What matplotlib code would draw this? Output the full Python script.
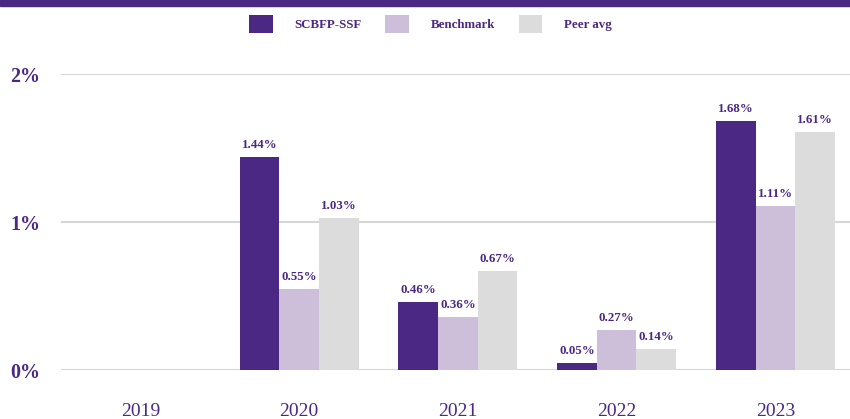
import matplotlib.pyplot as plt
import numpy as np

years = ['2019', '2020', '2021', '2022', '2023']
series = ['SCBFP-SSF', 'Benchmark', 'Peer avg']
scbfp = [np.nan, 1.44, 0.46, 0.05, 1.68]
bench = [np.nan, 0.55, 0.36, 0.27, 1.11]
peer = [np.nan, 1.03, 0.67, 0.14, 1.61]

purple = '#4b2884'
colors = [purple, '#cdbfda', '#dcdcdc']

plt.rcParams['font.family'] = ['Liberation Serif', 'DejaVu Serif']

fig = plt.figure(figsize=(8.5, 4.19), dpi=100)
ax = fig.add_axes([61 / 850, (419 - 370) / 419, 1 - 61 / 850, 296 / 419])

x = np.arange(len(years))
w = 0.25
for i, (vals, name) in enumerate(zip([scbfp, bench, peer], series)):
    xs = x + (i - 1) * w
    ax.bar(xs, vals, width=w, color=colors[i], label=name, zorder=3)
    for xi, v in zip(xs, vals):
        if not np.isnan(v):
            ax.text(xi, v + 0.04, f'{v:.2f}%', ha='center', va='bottom',
                    fontsize=9.3, fontweight='bold', color=purple)

ax.set_xlim(-0.5, 4.47)
ax.set_ylim(0, 2)
ax.set_yticks([0, 1, 2])
ax.set_yticklabels(['0%', '1%', '2%'], fontsize=14.4, fontweight='bold', color=purple)
ax.set_xticks(x)
ax.set_xticklabels(years, fontsize=14, color=purple)
ax.tick_params(axis='both', length=0)
ax.tick_params(axis='y', pad=15)
ax.tick_params(axis='x', pad=24)
ax.grid(axis='y', color='#d6d6d6', linewidth=1.5, zorder=0)
for s in ax.spines.values():
    s.set_visible(False)

fig.patches.append(plt.Rectangle((0, 1 - 6 / 419), 1, 6 / 419, transform=fig.transFigure,
                                 color=purple, zorder=5))

leg = fig.legend(loc='center', bbox_to_anchor=(430.5 / 850, 1 - 24 / 419), ncol=3, frameon=False,
                 handlelength=1.85, handleheight=1.8, handletextpad=1.7, columnspacing=1.8,
                 borderpad=0, prop={'size': 9.3, 'weight': 'bold'})
for t in leg.get_texts():
    t.set_color(purple)

fig.savefig('out.png', dpi=100)
